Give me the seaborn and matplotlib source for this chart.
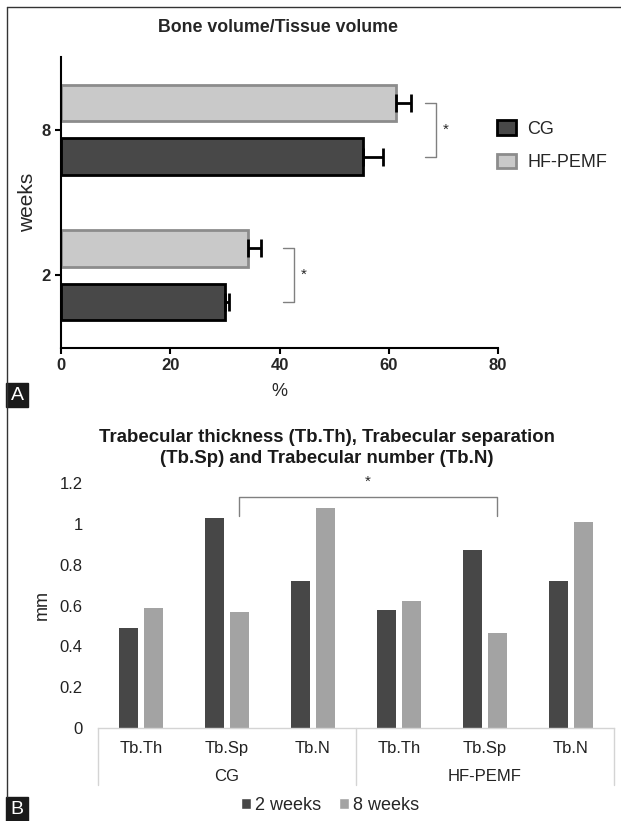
import numpy as np
import pandas as pd
import matplotlib
matplotlib.use("Agg")
import matplotlib.pyplot as plt
import seaborn as sns
from matplotlib.patches import Patch, Rectangle
from matplotlib.lines import Line2D
import matplotlib.transforms as mtransforms

sns.set_style("white")
plt.rcParams['font.family'] = ['Liberation Sans', 'DejaVu Sans']

# panel A - BV/TV (%), mean and error
weeks = ['8', '2']
bvtv_cg = [55.2, 30.0]
bvtv_hf = [61.4, 34.3]
err_cg = [3.7, 0.8]
err_hf = [2.6, 2.3]

# panel B - trabecular parameters (mm)
params = ['Tb.Th', 'Tb.Sp', 'Tb.N']
cg_2w = [0.49, 1.03, 0.72]
cg_8w = [0.59, 0.57, 1.08]
hf_2w = [0.58, 0.87, 0.72]
hf_8w = [0.62, 0.465, 1.01]

W, H = 621, 821
fig = plt.figure(figsize=(W / 100, H / 100), dpi=100)


def box(l, t, r, b):
    return [l / W, 1 - b / H, (r - l) / W, (b - t) / H]


# ---------------- panel A ----------------
dfa = pd.DataFrame({
    'weeks': weeks * 2,
    'group': ['CG'] * 2 + ['HF-PEMF'] * 2,
    'bvtv': bvtv_cg + bvtv_hf,
    'err': err_cg + err_hf,
})
fill_a = {'CG': '#484848', 'HF-PEMF': '#c9c9c9'}
edge_a = {'CG': '#000000', 'HF-PEMF': '#8c8c8c'}
hue_a = ['HF-PEMF', 'CG']

axa = fig.add_axes(box(61, 57, 498, 348))
sns.barplot(data=dfa, y='weeks', x='bvtv', hue='group', order=weeks,
            hue_order=hue_a, palette=fill_a, orient='h', width=0.74, gap=0.32,
            errorbar=None, saturation=1, legend=False, ax=axa)

centers = {}
for cont, g in zip(axa.containers, hue_a):
    sub = dfa[dfa.group == g].set_index('weeks').loc[weeks]
    for bar, (wk, row) in zip(cont, sub.iterrows()):
        bar.set_edgecolor(edge_a[g])
        bar.set_linewidth(2)
        yc = bar.get_y() + bar.get_height() / 2
        centers[(g, wk)] = yc
        axa.errorbar(row.bvtv, yc, xerr=[[0], [row.err]], color='black',
                     lw=2, capsize=6.5, capthick=2, zorder=5)

# significance brackets
for wk, x0 in zip(weeks, [66.7, 40.7]):
    y1, y2 = centers[('HF-PEMF', wk)], centers[('CG', wk)]
    axa.plot([x0, x0 + 2, x0 + 2, x0], [y1, y1, y2, y2], color='#808080',
             lw=1, clip_on=False)
    axa.text(x0 + 3.2, (y1 + y2) / 2, '*', ha='left', va='center', fontsize=11)

axa.set_xlim(0, 80)
axa.set_ylim(1.5, -0.5)
axa.set_xticks([0, 20, 40, 60, 80])
for s in ['top', 'right']:
    axa.spines[s].set_visible(False)
for s in ['left', 'bottom']:
    axa.spines[s].set_color('black')
    axa.spines[s].set_linewidth(1.5)
axa.tick_params(axis='both', direction='out', length=4, width=1.5,
                labelsize=12, color='black', left=True, bottom=True)
for lab in axa.get_xticklabels() + axa.get_yticklabels():
    lab.set_fontweight('bold')
axa.set_xlabel('%', fontsize=13, labelpad=7)
axa.set_ylabel('weeks', fontsize=15, labelpad=3)

handles = [Patch(facecolor=fill_a[g], edgecolor=edge_a[g], lw=2, label=g)
           for g in ['CG', 'HF-PEMF']]
fig.legend(handles=handles, loc='upper left', bbox_to_anchor=(481 / W, 1 - 104 / H),
           frameon=False, fontsize=13, handlelength=1.05, handleheight=0.85,
           labelspacing=0.9, handletextpad=0.6)

fig.text(278 / W, 1 - 27 / H, 'Bone volume/Tissue volume', ha='center',
         va='center', fontsize=12.8, fontweight='bold')

# ---------------- panel B ----------------
keys = [f'{g}|{p}' for g in ['CG', 'HF-PEMF'] for p in params]
dfb = pd.DataFrame({
    'key': keys * 2,
    'weeks': ['2 weeks'] * 6 + ['8 weeks'] * 6,
    'value': cg_2w + hf_2w + cg_8w + hf_8w,
})
fill_b = {'2 weeks': '#474747', '8 weeks': '#a3a3a3'}

axb = fig.add_axes(box(98, 483, 614, 728))
sns.barplot(data=dfb, x='key', y='value', hue='weeks', order=keys,
            hue_order=['2 weeks', '8 weeks'], palette=fill_b, width=0.56,
            gap=0.21, errorbar=None, saturation=1, legend=False, ax=axb)
for bar in axb.patches:
    bar.set_linewidth(0)

yt = [0, 0.2, 0.4, 0.6, 0.8, 1.0, 1.2]
axb.set_yticks(yt)
axb.set_yticklabels([f'{v:g}' for v in yt])
axb.set_xticks(range(6))
axb.set_xticklabels(params * 2)
axb.tick_params(axis='both', length=0, labelsize=12, colors='#222222')
axb.tick_params(axis='y', pad=11)
axb.tick_params(axis='x', pad=9)
axb.set_xlabel('')
axb.set_ylabel('mm', fontsize=13, labelpad=6)
for s in ['top', 'right', 'left']:
    axb.spines[s].set_visible(False)
axb.spines['bottom'].set_color('#d4d4d4')
axb.spines['bottom'].set_linewidth(1)

trans = mtransforms.blended_transform_factory(axb.transData, axb.transAxes)
for xs in [-0.5, 2.5, 5.5]:
    axb.plot([xs, xs], [0, -57 / 245], color='#d4d4d4', lw=1,
             transform=trans, clip_on=False)
for xg, g in zip([1, 4], ['CG', 'HF-PEMF']):
    axb.text(xg, -48 / 245, g, transform=trans, ha='center', va='center',
             fontsize=12, color='#222222')

# bracket between the 8-week Tb.Sp bars
c8 = axb.containers[1]
xl = c8[1].get_x() + c8[1].get_width() / 2
xr = c8[4].get_x() + c8[4].get_width() / 2
axb.plot([xl, xl, xr, xr], [1.04, 1.13, 1.13, 1.04], color='#808080', lw=1,
         clip_on=False)
axb.text((xl + xr) / 2, 1.205, '*', ha='center', va='center', fontsize=11)
axb.set_xlim(-0.5, 5.5)
axb.set_ylim(0, 1.2)

hb = [Patch(facecolor=fill_b[k], label=k) for k in ['2 weeks', '8 weeks']]
fig.legend(handles=hb, loc='center', bbox_to_anchor=(330 / W, 1 - 805 / H),
           ncol=2, frameon=False, fontsize=13, handlelength=0.55,
           handleheight=0.55, handletextpad=0.2, columnspacing=1.0)

fig.text(327 / W, 1 - 448 / H,
         'Trabecular thickness (Tb.Th), Trabecular separation\n'
         '(Tb.Sp) and Trabecular number (Tb.N)',
         ha='center', va='center', fontsize=13.4, fontweight='bold',
         linespacing=1.3, color='#1a1a1a')

# ---------------- frame and panel labels ----------------
fig.add_artist(Line2D([7 / W, 1], [1 - 7 / H, 1 - 7 / H], color='#333333',
                      lw=1, transform=fig.transFigure))
fig.add_artist(Line2D([7 / W, 7 / W], [1 - 7 / H, 1 - 797 / H], color='#333333',
                      lw=1, transform=fig.transFigure))
for lab, top in [('A', 383), ('B', 797)]:
    fig.add_artist(Rectangle((6 / W, 1 - (top + 24) / H), 22 / W, 24 / H,
                             transform=fig.transFigure, color='#1a1a1a'))
    fig.text(17 / W, 1 - (top + 12) / H, lab, ha='center', va='center',
             color='white', fontsize=14)

fig.savefig('out.png', dpi=100)
